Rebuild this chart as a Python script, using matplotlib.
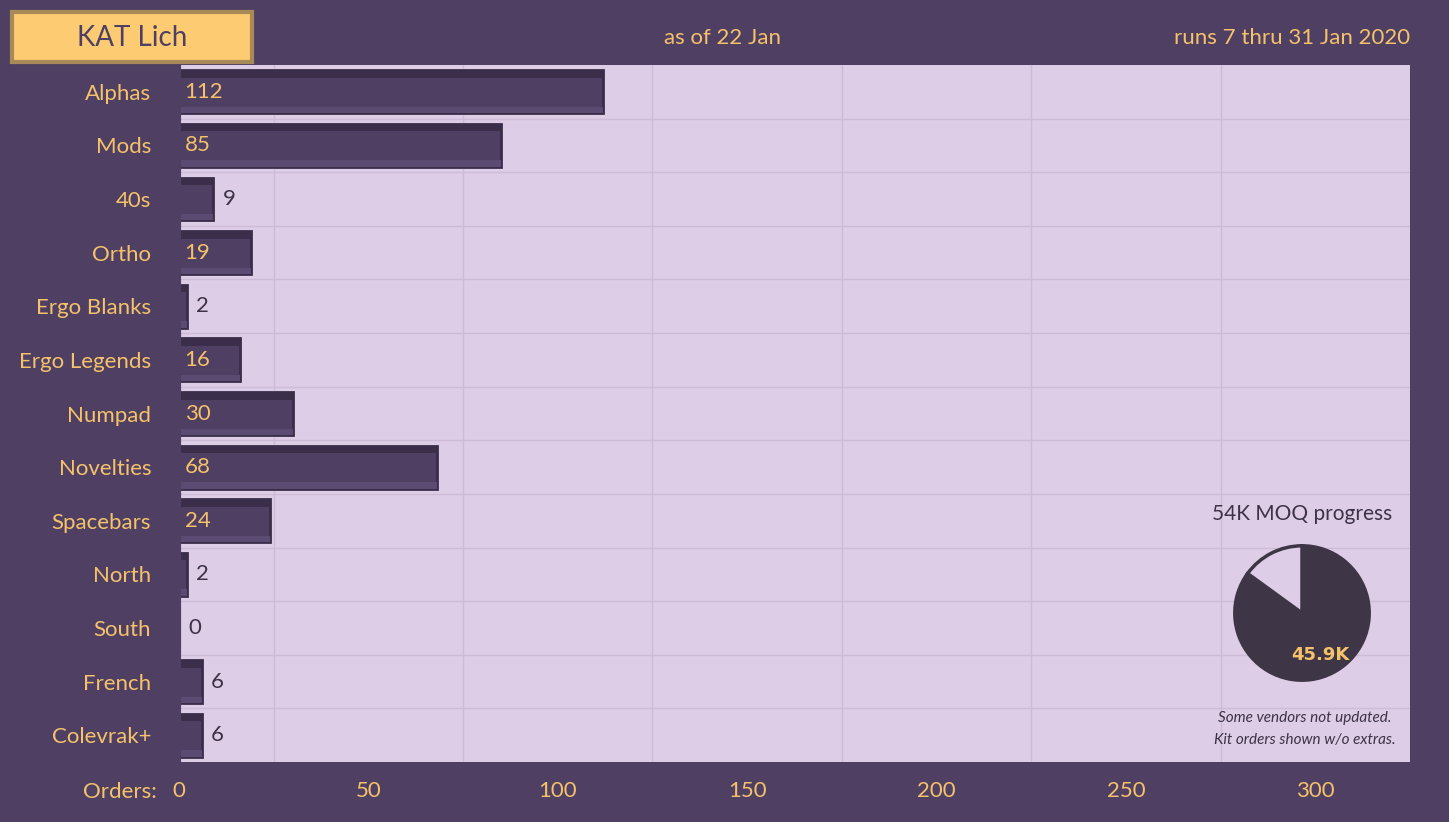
import matplotlib.pyplot as plt
from matplotlib.patches import FancyBboxPatch

plt.rcParams['font.family'] = ['Lato', 'DejaVu Sans']

categories = ['Alphas', 'Mods', '40s', 'Ortho', 'Ergo Blanks', 'Ergo Legends', 'Numpad',
              'Novelties', 'Spacebars', 'North', 'South', 'French', 'Colevrak+']
orders = [112, 85, 9, 19, 2, 16, 30, 68, 24, 2, 0, 6, 6]
xticks = [0, 50, 100, 150, 200, 250, 300]
moq_done = 45.9
moq_total = 54.0

BG = '#4f4063'
PANEL = '#ddcde6'
BAR = '#4e3f63'
GOLD = '#f5c26b'
DARK = '#3d3347'

fig = plt.figure(figsize=(14.49, 8.22), dpi=100, facecolor=BG)
ax = fig.add_axes([179 / 1449, 60 / 822, 1231 / 1449, 697 / 822])
ax.set_facecolor(PANEL)

y = list(range(len(categories)))
ax.barh(y, orders, height=0.8, color=BAR, edgecolor='#3a2d49', linewidth=2, zorder=3)
# bevel: darker top strip, lighter bottom strip
ax.barh([v - 0.33 for v in y], orders, height=0.14, color='#3b2e4b', zorder=4)
ax.barh([v + 0.34 for v in y], orders, height=0.12, color='#5b4b72', zorder=4)

for yi, v in zip(y, orders):
    if v >= 15:
        ax.text(1.5, yi, str(v), va='center', ha='left', color=GOLD, fontsize=16, zorder=5)
    else:
        ax.text(v + 2.5, yi, str(v), va='center', ha='left', color=DARK, fontsize=16, zorder=5)

ax.set_xlim(0, 325)
ax.set_ylim(len(categories) - 0.5, -0.5)
ax.set_yticks(y)
ax.set_yticklabels(categories)
ax.set_xticks(xticks)
ax.set_xticks(range(0, 326, 25), minor=True)
ax.set_yticks([v + 0.5 for v in y[:-1]], minor=True)
ax.grid(which='minor', color='#cdbcd8', linewidth=1, zorder=0)
ax.tick_params(axis='both', which='both', length=0, colors=GOLD, labelsize=16)
ax.tick_params(axis='y', pad=20)
ax.tick_params(axis='x', pad=14)
for s in ax.spines.values():
    s.set_visible(False)
ax.axvline(0, color=BAR, linewidth=3, zorder=4)

fig.text(157 / 1449, 1 - 792 / 822, 'Orders:', color=GOLD, fontsize=16, ha='right', va='center')
fig.text(722 / 1449, 1 - 38 / 822, 'as of 22 Jan', color=GOLD, fontsize=16, ha='center', va='center')
fig.text(1410 / 1449, 1 - 38 / 822, 'runs 7 thru 31 Jan 2020', color=GOLD, fontsize=16,
         ha='right', va='center')

# title box
box = FancyBboxPatch((12 / 1449, 1 - 62 / 822), 240 / 1449, 50 / 822, boxstyle='square,pad=0',
                     transform=fig.transFigure, facecolor='#fdcb71', edgecolor='#a88958',
                     linewidth=3)
fig.patches.append(box)
fig.text(132 / 1449, 1 - 38 / 822, 'KAT Lich', color=BG, fontsize=20, ha='center', va='center')

# pie inset
fig.text(1302 / 1449, 1 - 514 / 822, '54K MOQ progress', color=DARK, fontsize=15,
         ha='center', va='center')
pax = fig.add_axes([1218 / 1449, 1 - 697 / 822, 168 / 1449, 168 / 822])
pax.pie([moq_done, moq_total - moq_done], colors=['#3e3546', PANEL], startangle=90,
        counterclock=False, wedgeprops=dict(edgecolor='#3e3546', linewidth=2.5))
pax.set_aspect('equal')
fig.text(1320 / 1449, 1 - 655 / 822, f'{moq_done}K', color=GOLD, fontsize=13,
         fontweight='bold', ha='center', va='center', family='DejaVu Sans Condensed')
fig.text(1305 / 1449, 1 - 718 / 822, 'Some vendors not updated.', color=DARK, fontsize=11,
         style='italic', ha='center', va='center')
fig.text(1305 / 1449, 1 - 740 / 822, 'Kit orders shown w/o extras.', color=DARK, fontsize=11,
         style='italic', ha='center', va='center')

fig.savefig('out.png', dpi=100, facecolor=BG)
